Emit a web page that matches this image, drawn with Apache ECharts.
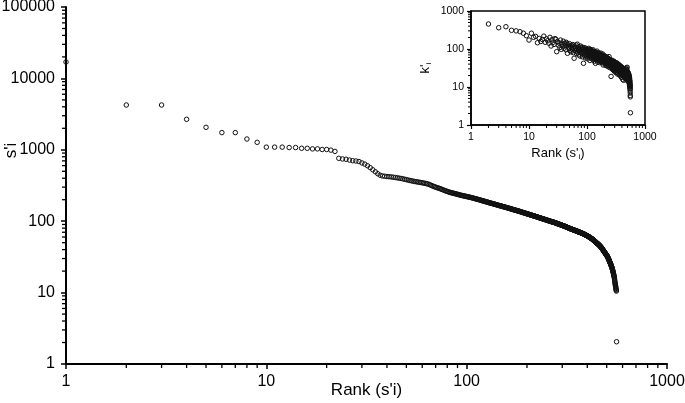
<!DOCTYPE html>
<html>
<head>
<meta charset="utf-8">
<script src="https://cdn.jsdelivr.net/npm/echarts@6/dist/echarts.min.js"></script>
<style>html,body{margin:0;padding:0;background:#fff;}#c{width:685px;height:403px;}</style>
</head>
<body>
<div id="c"></div>
<script>
// Main chart: s'i by rank (rank = position in list, starting at 1)
const sValues = [
17000, 4240, 4240, 2675, 2065, 1740, 1740, 1416, 1273, 1090, 1090, 1090, 1075, 1075, 1050, 1050, 1030, 1030, 1010, 1010,
990, 950, 760, 745, 737, 718, 703, 697, 685, 655, 630, 598, 562, 525, 492, 462, 440, 430, 426, 422,
420, 417, 413, 409, 405, 401, 397, 392, 387, 382, 377, 372, 368, 364, 360, 357, 354, 351, 348, 345,
342, 339, 336, 332, 327, 321, 315, 309, 304, 300, 296, 292, 288, 284, 280, 276, 272, 268, 264, 261,
258, 255, 252, 250, 248, 246, 244, 242, 240, 238, 236, 234, 232, 230, 229, 227, 226, 224, 223, 222,
220, 219, 217, 216, 215, 213, 212, 210, 209, 207, 206, 204, 203, 202, 200, 199, 198, 196, 195, 193,
192, 191, 190, 188, 187, 186, 185, 184, 182, 181, 180, 179, 178, 177, 176, 175, 174, 173, 172, 171,
170, 169, 168, 167, 166, 165, 164, 164, 163, 162, 161, 160, 159, 159, 158, 157, 156, 155, 155, 154,
153, 152, 151, 151, 150, 149, 148, 148, 147, 146, 145, 145, 144, 143, 143, 142, 141, 141, 140, 140,
139, 138, 138, 137, 136, 136, 135, 134, 134, 133, 132, 132, 131, 131, 130, 129, 129, 128, 128, 127,
126.4, 125.9, 125.4, 124.8, 124.3, 123.8, 123.3, 122.8, 122.3, 121.8, 121.3, 120.8, 120.3, 119.8, 119.3, 118.9, 118.4, 117.9, 117.5, 117,
116.5, 116, 115.5, 115, 114.6, 114.1, 113.6, 113.2, 112.7, 112.3, 111.8, 111.4, 110.9, 110.5, 110.1, 109.7, 109.2, 108.8, 108.4, 108,
107.6, 107.2, 106.8, 106.4, 106, 105.6, 105.2, 104.8, 104.4, 104, 103.6, 103.3, 102.9, 102.5, 102.1, 101.8, 101.4, 101, 100.7, 100.3,
99.9, 99.6, 99.2, 98.9, 98.6, 98.3, 98, 97.7, 97.4, 97.1, 96.8, 96.5, 96.2, 95.9, 95.6, 95.3, 95, 94.7, 94.4, 94.1,
93.3, 93, 92.7, 92.4, 92, 91.7, 91.4, 91.1, 90.8, 90.5, 90.2, 89.9, 89.6, 89.3, 89, 88.7, 88.4, 88.1, 87.8, 87.5,
87.2, 86.9, 86.5, 86.2, 85.9, 85.6, 85.3, 85, 84.6, 84.3, 84, 83.7, 83.4, 83.1, 82.8, 82.5, 82.2, 81.9, 81.6, 81.3,
81, 80.7, 80.4, 80.1, 79.8, 79.5, 79.2, 78.9, 78.6, 78.4, 78.1, 77.8, 77.6, 77.3, 77, 76.8, 76.5, 76.3, 76, 75.8,
75.5, 75.3, 75.1, 74.9, 74.7, 74.5, 74.2, 74, 73.8, 73.6, 73.4, 73.2, 73, 72.8, 72.6, 72.4, 72.1, 71.9, 71.7, 71.5,
71, 70.8, 70.6, 70.4, 70.2, 70, 69.8, 69.6, 69.4, 69.2, 69, 68.8, 68.6, 68.4, 68.2, 68, 67.8, 67.6, 67.4, 67.2,
67, 66.8, 66.5, 66.3, 66, 65.8, 65.5, 65.3, 65, 64.8, 64.5, 64.3, 64, 63.8, 63.5, 63.3, 63, 62.8, 62.5, 62.3,
62, 61.8, 61.5, 61.3, 61, 60.8, 60.5, 60.3, 60, 59.8, 59.5, 59.2, 59, 58.7, 58.5, 58.2, 58, 57.7, 57.5, 57.2,
56.9, 56.6, 56.3, 56, 55.7, 55.4, 55.1, 54.8, 54.5, 54.2, 53.9, 53.6, 53.3, 53, 52.7, 52.5, 52.2, 51.9, 51.6, 51.3,
51, 50.7, 50.4, 50.1, 49.8, 49.6, 49.3, 49, 48.8, 48.6, 48.3, 48, 47.7, 47.5, 47.2, 46.9, 46.6, 46.4, 46.1, 45.8,
45.5, 45.2, 44.9, 44.6, 44.3, 44, 43.7, 43.4, 43.1, 42.8, 42.4, 42.1, 41.7, 41.4, 41, 40.7, 40.3, 40, 39.6, 39.3,
39, 38.6, 38.3, 38, 37.7, 37.4, 37.1, 36.7, 36.4, 36.1, 35.8, 35.5, 35.2, 34.9, 34.6, 34.4, 34.1, 33.8, 33.5, 33.3,
33, 32.6, 32.3, 31.9, 31.6, 31.2, 30.9, 30.6, 30.2, 29.9, 29.5, 29.1, 28.7, 28.4, 28, 27.6, 27.2, 26.9, 26.5, 26.1,
25.8, 25.5, 25.1, 24.8, 24.5, 24.1, 23.8, 23.5, 23.1, 22.8, 22.4, 22, 21.5, 21.1, 20.7, 20.3, 19.9, 19.5, 19.1, 18.8,
18.3, 17.9, 17.4, 17, 16.6, 16.1, 15.5, 15, 14.4, 13.9, 13.4, 13, 12.6, 12.2, 11.8, 11.4, 11.1, 10.8, 10.5, 2.05
];

// Inset: k'i by rank of s'i (rank 1 not shown)
const kValues = [
null, 455, 363, 386, 310, 300, 285, 260, 224, 172, 260, 203, 215, 146, 190, 158, 178, 218, 150, 185,
165, 142, 203, 120, 176, 150, 132, 188, 180, 85, 158, 126, 145, 110, 172, 98, 135, 118, 160, 104,
141, 122, 95, 150, 141, 77, 128, 112, 102, 138, 90, 118, 84, 125, 108, 96, 131, 80, 112, 57,
119, 92, 104, 88, 127, 76, 99, 134, 83, 110, 94, 70, 115, 86, 101, 65, 120, 90, 79, 106,
96, 74, 112, 62, 98, 85, 42, 104, 78, 92, 68, 108, 87, 58, 95, 80, 72, 100, 64, 88,
90, 76, 55, 98, 83, 70, 104, 61, 86, 79, 93, 50, 75, 88, 66, 97, 72, 58, 84, 69,
91, 62, 77, 85, 53, 80, 68, 95, 57, 74, 64, 87, 48, 79, 70, 60, 85, 66, 55, 42,
78, 63, 82, 58, 71, 50, 76, 65, 88, 54, 69, 60, 45, 73, 62, 80, 56, 67, 49, 71,
64, 52, 75, 59, 68, 44, 61, 72, 55, 66, 48, 63, 78, 51, 58, 69, 46, 62, 54, 70,
57, 65, 43, 60, 52, 74, 49, 56, 62, 38, 58, 67, 47, 55, 63, 50, 44, 59, 53, 66,
48, 56, 61, 42, 52, 64, 46, 55, 50, 37, 58, 45, 53, 62, 40, 49, 57, 44, 51, 60,
47, 36, 54, 43, 50, 58, 41, 48, 52, 39, 56, 45, 49, 34, 53, 46, 42, 55, 38, 63,
44, 50, 40, 47, 53, 36, 45, 41, 49, 32, 46, 51, 39, 43, 48, 35, 44, 52, 37, 19,
45, 40, 48, 34, 43, 50, 38, 41, 46, 31, 44, 39, 47, 36, 42, 29, 45, 40, 33, 49,
38, 43, 35, 46, 30, 41, 37, 44, 28, 39, 42, 34, 47, 36, 40, 26, 38, 43, 33, 41,
37, 45, 31, 39, 35, 42, 27, 38, 34, 44, 30, 36, 40, 24, 37, 33, 41, 29, 35, 38,
32, 39, 36, 28, 43, 34, 31, 37, 25, 35, 40, 30, 33, 38, 22, 34, 36, 29, 41, 32,
35, 27, 33, 38, 30, 36, 23, 32, 37, 29, 34, 31, 39, 26, 33, 35, 28, 30, 36, 21,
31, 34, 27, 33, 29, 37, 25, 32, 30, 35, 28, 31, 20, 33, 29, 26, 34, 30, 24, 32,
28, 33, 26, 30, 35, 23, 29, 31, 27, 32, 18, 28, 30, 25, 33, 27, 29, 22, 31, 26,
29, 24, 30, 27, 32, 21, 28, 26, 31, 23, 29, 16, 27, 30, 25, 28, 22, 26, 29, 24,
27, 31, 23, 26, 28, 15, 25, 29, 22, 27, 24, 30, 20, 26, 28, 23, 25, 18, 27, 24,
26, 22, 29, 25, 19, 27, 23, 26, 28, 21, 24, 17, 26, 23, 27, 20, 25, 22, 28, 24,
21, 26, 23, 18, 25, 30, 22, 24, 20, 26, 23, 16, 25, 21, 24, 32, 19, 23, 22, 25,
20, 24, 22, 29, 18, 23, 21, 25, 15, 22, 24, 19, 33, 21, 26, 17, 22, 20, 24, 18,
23, 21, 19, 25, 22, 17, 20, 23, 18, 21, 24, 16, 20, 22, 19, 14, 21, 18, 20, 17,
19, 22, 16, 18, 20, 15, 19, 17, 21, 14, 18, 16, 19, 13, 17, 15, 18, 12, 16, 14,
15, 13, 17, 11, 14, 12, 15, 10, 13, 11, 12, 9, 10, 8, 11, 7, 9, 6, 5.5, 2.1
];

const mainXLabels = [1, 10, 100, 1000];
const mainYLabels = [1, 10, 100, 1000, 10000, 100000];
const insetXLabels = [1, 10, 100, 1000];
const insetYLabels = [1, 10, 100, 1000];

function minorTicks(maxDecadeStart) {
  const out = [];
  for (let d = 1; d <= maxDecadeStart; d *= 10) {
    for (let m = 2; m <= 9; m++) out.push(m * d);
  }
  return out;
}
const mainXMinor = minorTicks(100);
const mainYMinor = minorTicks(10000);
const insetXMinor = minorTicks(100);
const insetYMinor = minorTicks(100);

const FONT = 'Liberation Sans, Arial, Helvetica, sans-serif';

function tickSeries(xi, yi, values, dir, len, lw) {
  return {
    type: 'custom', xAxisIndex: xi, yAxisIndex: yi, silent: true, clip: false, z: 5,
    data: values.map(v => dir === 'x' ? [v, 1] : [1, v]),
    renderItem: function (params, api) {
      const p = api.coord([api.value(0), api.value(1)]);
      const shape = dir === 'x'
        ? { x1: p[0], y1: p[1], x2: p[0], y2: p[1] + len }
        : { x1: p[0] - len, y1: p[1], x2: p[0], y2: p[1] };
      return { type: 'line', shape: shape, style: { stroke: '#000', lineWidth: lw } };
    }
  };
}

function labelFmt(list) {
  return function (v) {
    for (const t of list) if (Math.abs(v - t) / t < 1e-6) return String(t);
    return '';
  };
}

const chart = echarts.init(document.getElementById('c'), null, { renderer: 'canvas' });
chart.setOption({
  backgroundColor: '#fff',
  animation: false,
  textStyle: { fontFamily: FONT },
  grid: [
    { left: 66, right: 18, top: 7, bottom: 39, containLabel: false, outerBoundsMode: 'none' },
    { left: 471, right: 40, top: 11, bottom: 278, containLabel: false, outerBoundsMode: 'none', show: true, borderColor: '#000', borderWidth: 1.5, backgroundColor: '#fff', z: 3 }
  ],
  xAxis: [
    {
      type: 'log', logBase: 10, min: 1, max: 1000, gridIndex: 0,
      axisLine: { lineStyle: { color: '#000', width: 2 } },
      axisTick: { show: true, length: 5, lineStyle: { color: '#000', width: 1.5 } },
      axisLabel: { fontSize: 16, color: '#000', margin: 10, fontFamily: FONT, formatter: labelFmt(mainXLabels) },
      splitLine: { show: false },
      name: "Rank (s'i)", nameLocation: 'middle', nameGap: 18, nameMoveOverlap: false,
      nameTextStyle: { fontSize: 17, color: '#000', fontFamily: FONT }
    },
    {
      type: 'log', logBase: 10, min: 1, max: 1000, gridIndex: 1, z: 4,
      axisLine: { lineStyle: { color: '#000', width: 1.5 } },
      axisTick: { show: true, length: 4, lineStyle: { color: '#000', width: 1.2 } },
      axisLabel: { fontSize: 10.5, color: '#000', margin: 7, fontFamily: FONT, formatter: labelFmt(insetXLabels) },
      splitLine: { show: false },
      name: "{n|Rank (s'}{s|i}{n|)}", nameLocation: 'middle', nameGap: 20, nameMoveOverlap: false,
      nameTextStyle: {
        color: '#000', fontFamily: FONT,
        rich: {
          n: { fontSize: 13, color: '#000', fontFamily: FONT, lineHeight: 16 },
          s: { fontSize: 8, color: '#000', fontFamily: FONT, lineHeight: 9, verticalAlign: 'bottom' }
        }
      }
    }
  ],
  yAxis: [
    {
      type: 'log', logBase: 10, min: 1, max: 100000, gridIndex: 0,
      axisLine: { lineStyle: { color: '#000', width: 2 } },
      axisTick: { show: true, length: 5, lineStyle: { color: '#000', width: 1.5 } },
      axisLabel: { fontSize: 16, color: '#000', margin: 11, fontFamily: FONT, formatter: labelFmt(mainYLabels) },
      splitLine: { show: false },
      name: "s'i", nameLocation: 'middle', nameGap: 46, nameMoveOverlap: false,
      nameTextStyle: { fontSize: 17, color: '#000', fontFamily: FONT, padding: [0, 0, 0, 70] }
    },
    {
      type: 'log', logBase: 10, min: 1, max: 1000, gridIndex: 1, z: 4,
      axisLine: { lineStyle: { color: '#000', width: 1.5 } },
      axisTick: { show: true, length: 4, lineStyle: { color: '#000', width: 1.2 } },
      axisLabel: { fontSize: 10.5, color: '#000', margin: 7, fontFamily: FONT, formatter: labelFmt(insetYLabels) },
      splitLine: { show: false },
      name: "{n|k'}{s|i}", nameLocation: 'middle', nameGap: 38, nameMoveOverlap: false,
      nameTextStyle: {
        color: '#000', fontFamily: FONT,
        rich: {
          n: { fontSize: 13, color: '#000', fontFamily: FONT, lineHeight: 16 },
          s: { fontSize: 8, color: '#000', fontFamily: FONT, lineHeight: 9, verticalAlign: 'bottom' }
        }
      }
    }
  ],
  series: [
    {
      type: 'scatter', xAxisIndex: 0, yAxisIndex: 0, symbol: 'circle', symbolSize: 4.5, z: 2,
      itemStyle: { color: 'rgba(255,255,255,0)', borderColor: '#111', borderWidth: 1, opacity: 1 },
      data: sValues.map((v, i) => [i + 1, v])
    },
    {
      type: 'scatter', xAxisIndex: 1, yAxisIndex: 1, symbol: 'circle', symbolSize: 4.5, z: 6,
      itemStyle: { color: 'rgba(255,255,255,0)', borderColor: '#111', borderWidth: 1, opacity: 1 },
      data: kValues.map((v, i) => [i + 1, v]).filter(d => d[1] !== null)
    },
    tickSeries(0, 0, mainXMinor, 'x', 4, 1.3),
    tickSeries(0, 0, mainYMinor, 'y', 4, 1.3),
    tickSeries(1, 1, insetXMinor, 'x', 3, 1),
    tickSeries(1, 1, insetYMinor, 'y', 3, 1)
  ]
});
</script>
</body>
</html>
